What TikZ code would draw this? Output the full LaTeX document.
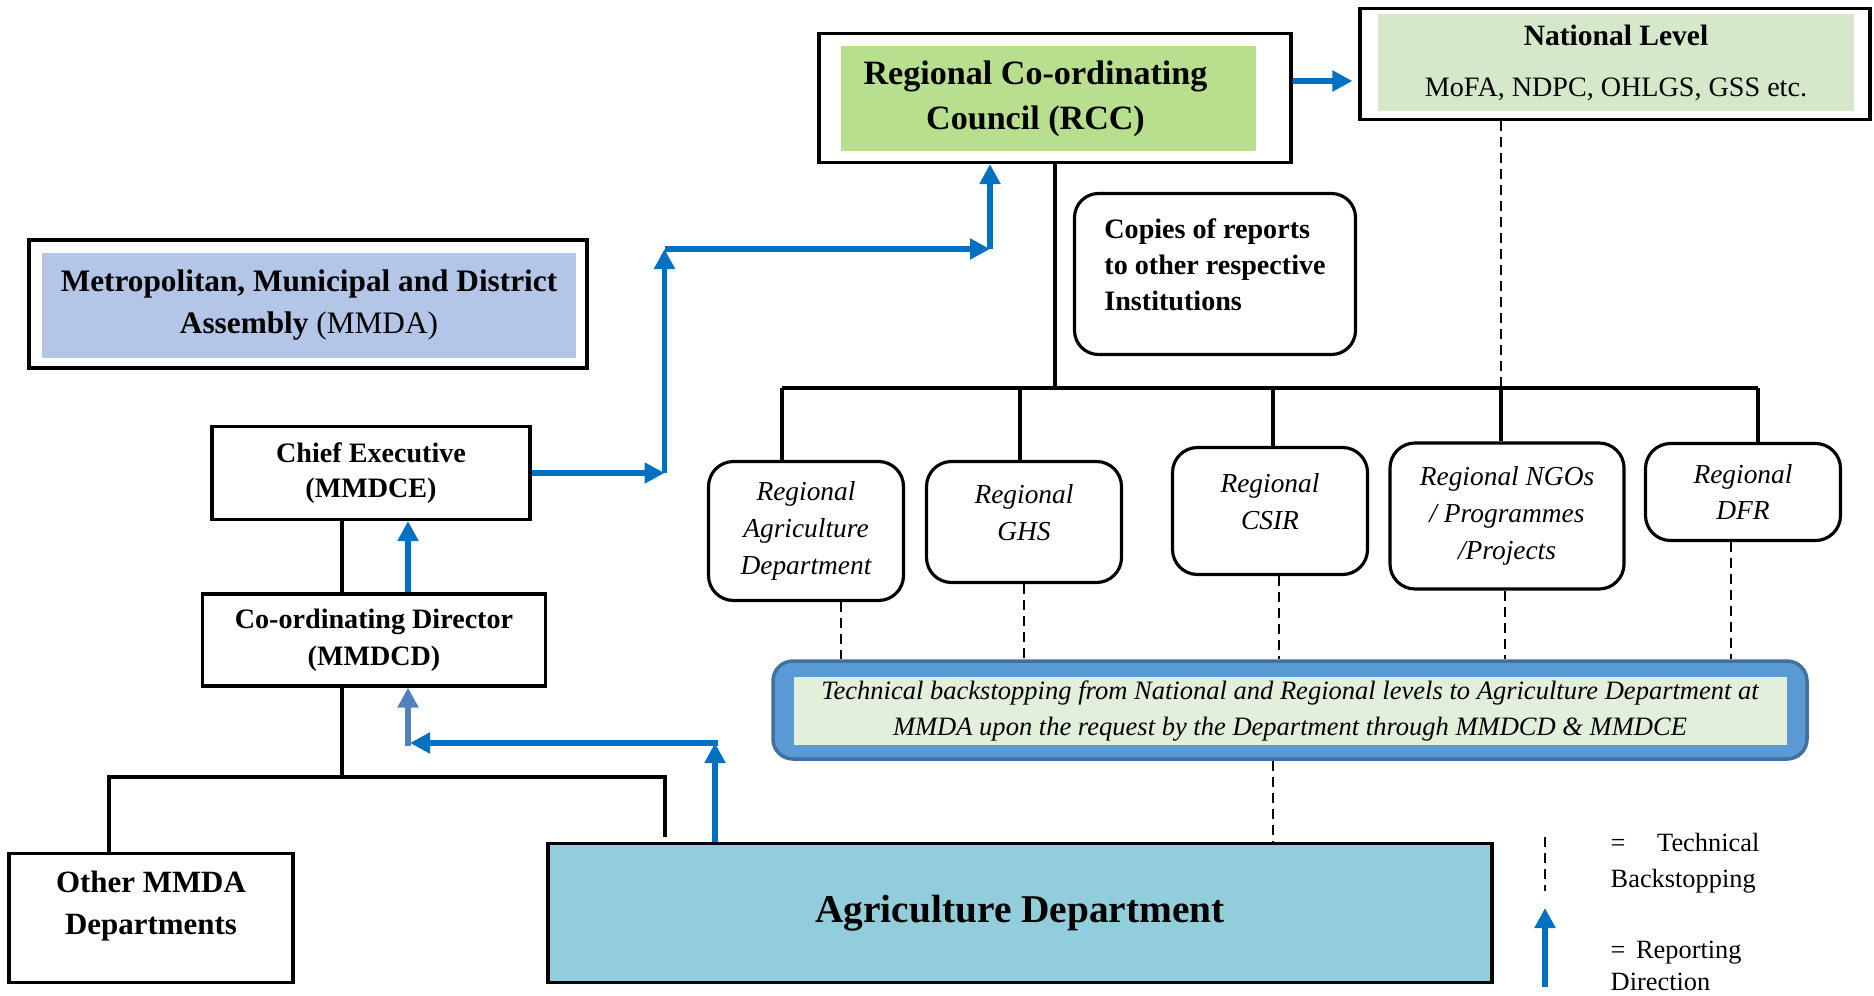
\documentclass[tikz,border=0pt]{standalone}
\usepackage{fontspec}
\setmainfont{Liberation Serif}
\usetikzlibrary{arrows.meta}
\definecolor{rep-blue}{HTML}{0070C0}
\definecolor{rep-light}{HTML}{4F81BD}
\definecolor{rcc-green}{HTML}{B8DF8D}
\definecolor{nat-green}{HTML}{D5E8CA}
\definecolor{mmda-blue}{HTML}{B4C6E7}
\definecolor{tech-blue}{HTML}{5B9BD5}
\definecolor{tech-edge}{HTML}{41719C}
\definecolor{tech-bg}{HTML}{E2EFDA}
\definecolor{agri-blue}{HTML}{92CDDC}
\newcommand{\fsz}[2]{\fontsize{#1}{#2}\selectfont}

\begin{document}
\begin{tikzpicture}[>={Triangle[width=2mm,length=2mm]},
        box/.style={draw, line width=0.9pt, inner sep=0pt, align=center},
        regbox/.style={draw, line width=0.9pt, rounded corners=2.5mm, inner sep=0pt,
                       align=center, font=\fsz{7.8}{10.5}\itshape},
        link/.style={line width=1pt},
        bus/.style={line width=1.3pt},
        techline/.style={line width=0.55pt, dash pattern=on 1mm off 0.6mm},
        rep/.style={->, draw=rep-blue, line width=1.7pt}]
      \useasboundingbox (0,0) rectangle (18.74,9.95);
      \node[box, minimum width=4.72cm, minimum height=1.29cm] (rcc) at (10.55,8.97) {};
      \node[fill=rcc-green, inner sep=0pt, align=center, minimum width=4.15cm, minimum height=1.05cm,
            font=\fsz{9.7}{12.9}\bfseries] (rccin) at (10.48,8.96) {Regional Co-ordinating\hspace*{0.25cm}\\Council (RCC)\hspace*{0.25cm}};
      \node[box, minimum width=5.1cm, minimum height=1.11cm] (natl) at (16.15,9.31) {};
      \node[fill=nat-green, inner sep=0pt, align=center, minimum width=4.76cm, minimum height=0.97cm,
            font=\fsz{8}{9}] (natlin) at (16.16,9.32) {{\fsz{8.4}{9}\bfseries National Level}\\[5.5pt]MoFA, NDPC, OHLGS, GSS etc.};
      \draw[rep] ([yshift=1.7mm]rcc.east) -- ([xshift=-0.6mm]natl.west |- 0,9.14);
      \node[box, minimum width=5.58cm, minimum height=1.28cm] (mmda) at (3.08,6.91) {};
      \node[fill=mmda-blue, inner sep=0pt, align=center, minimum width=5.34cm, minimum height=1.05cm,
            font=\fsz{8.9}{12.2}\bfseries] (mmdain) at (3.09,6.9) {Metropolitan, Municipal and District\\Assembly {\mdseries (MMDA)}};
      \node[regbox, rounded corners=2.4mm, align=left, minimum width=2.81cm, minimum height=1.61cm,
            font=\fsz{8}{10.3}\bfseries] (copies) at (12.15,7.21) {Copies of reports\\to other respective\\Institutions\\[-5pt]~};
      \coordinate (busL) at (7.82,6.07);
      \coordinate (busR) at (17.58,6.07);
      \draw[bus] (busL) -- (busR);
      \draw[link] (rcc.south) -- (rcc.south |- busL);
      \draw[techline] (15.01,0 |- natl.south) -- (15.01,0 |- busL);
      \node[regbox, minimum width=1.95cm, minimum height=1.39cm] (ragri) at (8.06,4.64) {Regional\\Agriculture\\Department};
      \node[regbox, minimum width=1.95cm, minimum height=1.21cm] (rghs) at (10.24,4.73) {Regional\\GHS\\[-5pt]~};
      \node[regbox, minimum width=1.95cm, minimum height=1.27cm] (rcsir) at (12.7,4.84) {Regional\\CSIR\\[-5pt]~};
      \node[regbox, minimum width=2.34cm, minimum height=1.46cm] (rngo) at (15.07,4.79) {Regional NGOs\\/ Programmes\\/Projects};
      \node[regbox, minimum width=1.95cm, minimum height=0.97cm] (rdfr) at (17.43,5.03) {Regional\\DFR};
      \foreach \b/\x in {ragri/7.82, rghs/10.2, rcsir/12.73, rngo/15.01, rdfr/17.58}
        \draw[link] (\x,0 |- busL) -- (\x,0 |- \b.north);
      \node[draw=tech-edge, fill=tech-blue, line width=1pt, rounded corners=2mm,
            minimum width=10.34cm, minimum height=0.98cm] (tech) at (12.9,2.85) {};
      \node[fill=tech-bg, inner sep=0pt, align=center, minimum width=9.93cm, minimum height=0.68cm,
            font=\fsz{7.55}{10.5}\itshape] (techin) at (12.9,2.84) {Technical backstopping from National and Regional levels to Agriculture Department at\\MMDA upon the request by the Department through MMDCD \& MMDCE};
      \foreach \b/\x in {ragri/8.41, rghs/10.24, rcsir/12.79, rngo/15.05, rdfr/17.31}
        \draw[techline] (\x,0 |- \b.south) -- (\x,0 |- tech.north);
      \node[draw, line width=1pt, fill=agri-blue, minimum width=9.44cm, minimum height=1.39cm,
            font=\fsz{11.2}{13}\bfseries] (agri) at (10.2,0.82) {Agriculture Department};
      \draw[techline] (12.73,0 |- tech.south) -- (12.73,0 |- agri.north);
      \node[box, minimum width=3.18cm, minimum height=0.93cm, font=\fsz{8}{9.9}\bfseries] (ce) at (3.71,5.22) {Chief Executive\\(MMDCE)};
      \node[box, minimum width=3.43cm, minimum height=0.92cm, font=\fsz{8}{10.5}\bfseries] (cd) at (3.74,3.55) {Co-ordinating Director\\(MMDCD)};
      \node[box, minimum width=2.84cm, minimum height=1.29cm, font=\fsz{8.8}{11.9}\bfseries] (other) at (1.51,0.77) {Other MMDA\\Departments\\[-3.4pt]~};
      \coordinate (fork) at (3.42,2.18);
      \coordinate (forkR) at (6.65,1.58);
      \draw[link] (ce.south -| fork) -- (cd.north -| fork);
      \draw[link] (cd.south -| fork) -- (fork);
      \draw[link] (1.09,0 |- other.north) |- (forkR |- fork) -- (forkR);
      \coordinate (t1) at (6.645,5.22);
      \coordinate (t2) at (6.645,7.46);
      \coordinate (t3) at (9.9,7.46);
      \draw[rep] (ce.east) -- (t1);
      \draw[rep] (t1) -- (t2);
      \draw[rep] (t2) -- (t3);
      \draw[rep] (t3) -- (t3 |- rcc.south);
      \draw[rep] (4.08,0 |- cd.north) -- (4.08,0 |- ce.south);
      \coordinate (t4) at (7.15,2.52);
      \coordinate (t5) at (4.1,2.52);
      \draw[rep] (t4 |- agri.north) -- (t4);
      \draw[rep] ([xshift=0.3mm]t4) -- (t5);
      \draw[rep, draw=rep-light] ([yshift=-0.3mm]t5 -| 4.08,0) -- (4.08,0 |- cd.south);
      \coordinate (legdash) at (15.45,1.58);
      \draw[techline] (legdash) -- ++(0,-0.54);
      \node[anchor=west, inner sep=0pt, align=left, font=\fsz{7.5}{10.2}] (legtech) at (16.1,1.32) {=\hspace{1.2em}Technical\\Backstopping};
      \coordinate (legrep) at (15.45,0.08);
      \draw[rep] (legrep) -- ++(0,0.79);
      \node[anchor=west, inner sep=0pt, align=left, font=\fsz{7.5}{9.2}] (legdir) at (16.1,0.29) {=\hspace{0.4em}Reporting\\Direction};
    \end{tikzpicture}
\end{document}
